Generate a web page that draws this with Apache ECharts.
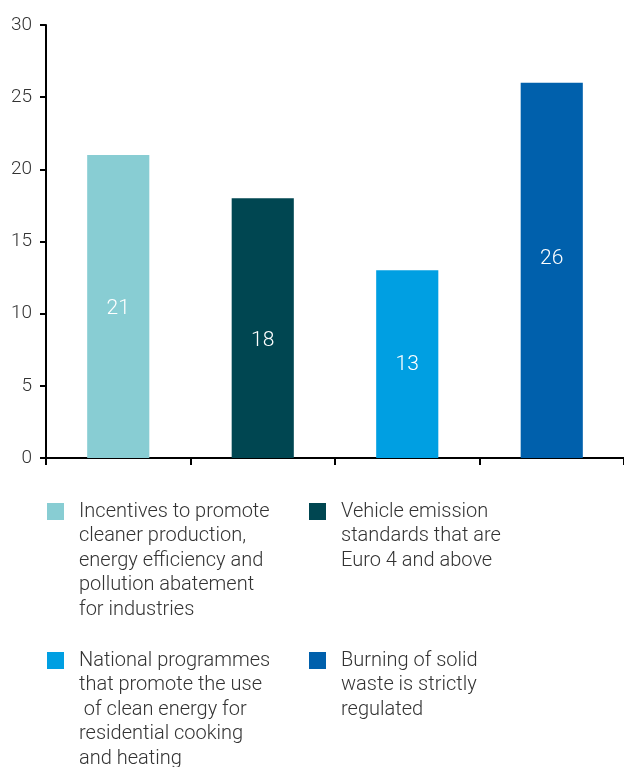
<!DOCTYPE html>
<html>
<head>
<meta charset="utf-8">
<script src="https://cdn.jsdelivr.net/npm/echarts@6/dist/echarts.min.js"></script>
<style>
  html, body { margin: 0; padding: 0; background: #fff; }
  #chart { width: 624px; height: 767px; }
</style>
</head>
<body>
<div id="chart"></div>
<script>
// data
const categories = [
  'Incentives to promote\ncleaner production,\nenergy efficiency and\npollution abatement\nfor industries',
  'Vehicle emission\nstandards that are\nEuro 4 and above',
  'National programmes\nthat promote the use\n of clean energy for\nresidential cooking\nand heating',
  'Burning of solid\nwaste is strictly\nregulated'
]
const values = [21, 18, 13, 26]
const colors = ['#88cdd3', '#004651', '#009fe2', '#0060ac']
const yTicks = { min: 0, max: 30, interval: 5 }

const FONT = 'Roboto'
const LINE_H = 24.5
// value labels in the original are not exactly centred
const labelOffsets = [[0, 2], [0, 13], [0, 1], [0, -12]]

// each category is its own stacked series so the legend gets one item per bar
const series = categories.map((name, i) => ({
  name,
  type: 'bar',
  stack: 'all',
  barWidth: '43%',
  itemStyle: { color: colors[i] },
  label: {
    show: true,
    position: 'inside',
    offset: labelOffsets[i],
    color: '#fff',
    fontFamily: FONT,
    fontWeight: 300,
    fontSize: 21
  },
  data: categories.map((c, j) => (j === i ? values[i] : '-'))
}))

// legend position: [left, icon top]
const legendPos = [[47, 503], [309, 503], [47, 652], [309, 652]]
const legends = categories.map((name, i) => {
  const n = name.split('\n').length
  const iconCenter = legendPos[i][1] + 8.5
  return {
    data: [name],
    left: legendPos[i][0],
    top: iconCenter - (2 * n - 1) * LINE_H / 2,
    padding: 0,
    icon: 'rect',
    itemWidth: 17,
    itemHeight: 17,
    selectedMode: false,
    // blank lines in front push the first real line level with the square
    formatter: (nm) => '\n'.repeat(n - 1) + nm,
    textStyle: {
      fontFamily: FONT,
      fontWeight: 300,
      fontSize: 20,
      color: '#333',
      lineHeight: LINE_H,
      padding: [0, 0, 0, 10]
    }
  }
})

const chart = echarts.init(document.getElementById('chart'))
chart.setOption({
  animation: false,
  grid: { left: 46, right: 0, top: 25, bottom: 309, containLabel: false },
  legend: legends,
  xAxis: {
    type: 'category',
    data: categories,
    axisLine: { lineStyle: { color: '#000', width: 2 } },
    axisTick: { show: true, interval: 0, length: 7, lineStyle: { color: '#000', width: 2 } },
    axisLabel: { show: false }
  },
  yAxis: {
    type: 'value',
    min: yTicks.min,
    max: yTicks.max,
    interval: yTicks.interval,
    axisLine: { show: true, lineStyle: { color: '#000', width: 2 } },
    axisTick: { show: true, length: 6, lineStyle: { color: '#000', width: 2 } },
    splitLine: { show: false },
    axisLabel: {
      margin: 14,
      color: '#333',
      fontFamily: FONT,
      fontWeight: 300,
      fontSize: 19
    }
  },
  series
})
</script>
</body>
</html>
